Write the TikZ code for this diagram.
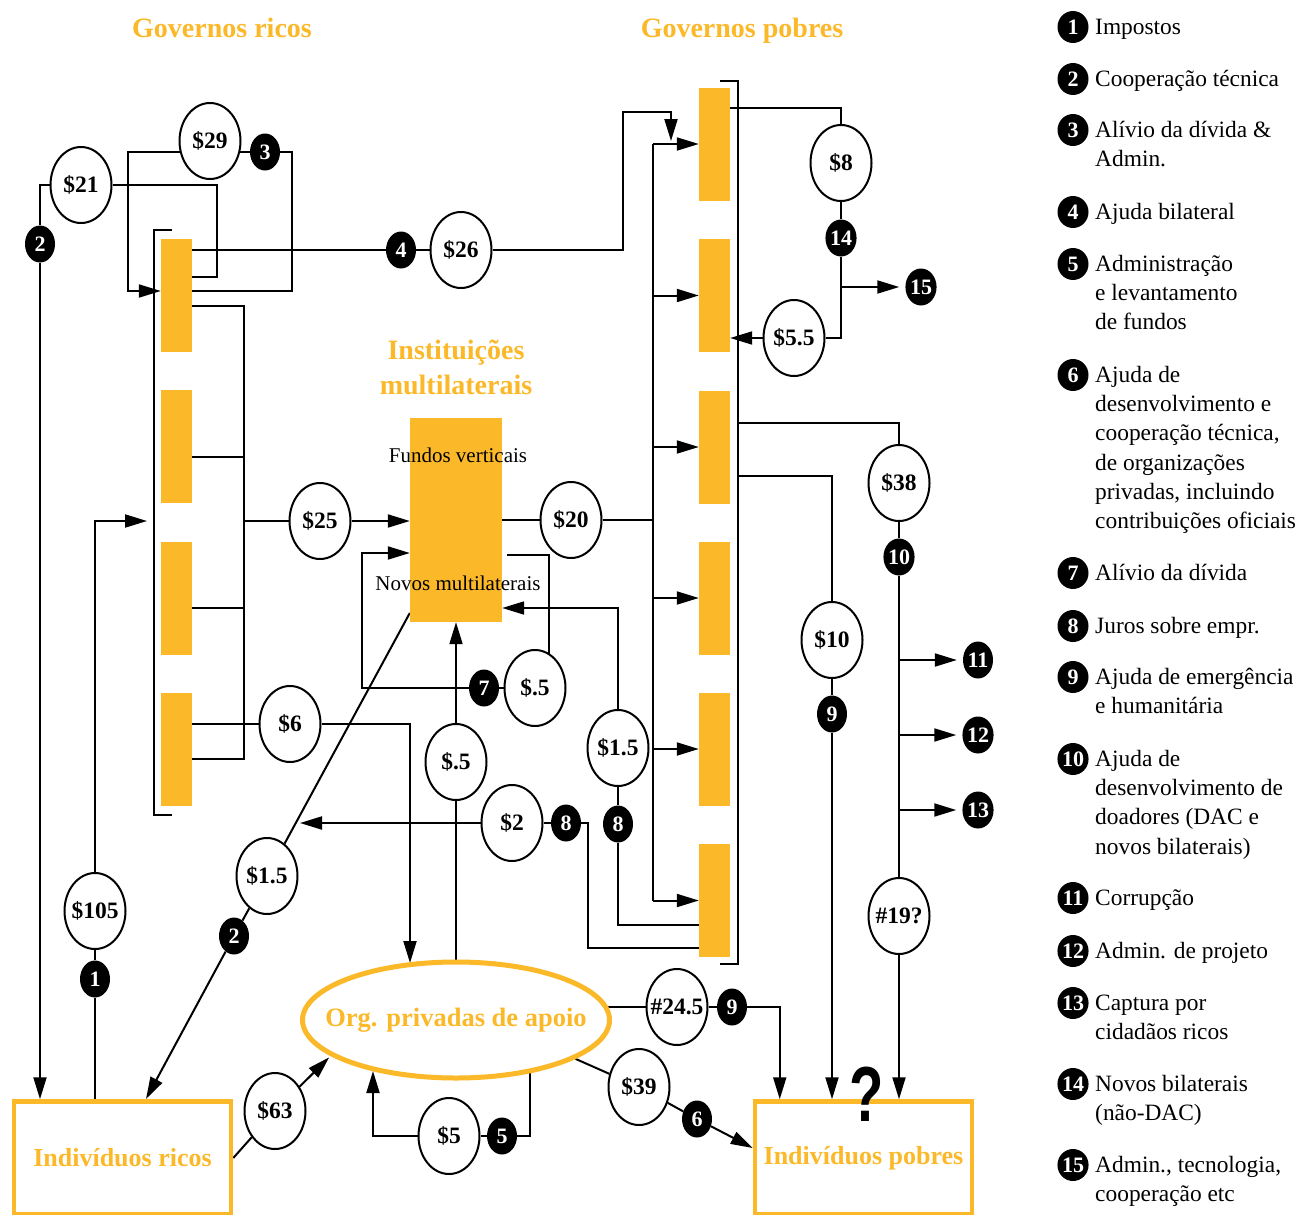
\documentclass[tikz,border=0pt]{standalone}
\usepackage{graphicx}
\usepackage{fontspec}
\setmainfont{Liberation Serif}
\newfontfamily\qfont{Liberation Sans}
\usetikzlibrary{shapes.geometric,arrows.meta,backgrounds}

\begin{document}
\begin{tikzpicture}[x=1pt,y=-1pt,
    flow/.style={line width=2pt},
    flowto/.style={line width=2pt,-{Triangle[length=22pt,width=13pt]}},
    govbar/.style={shape=rectangle,fill=aidorange,minimum width=31pt,minimum height=113pt,inner sep=0pt},
    amount/.style={shape=ellipse,draw,line width=2pt,fill=white,minimum width=61pt,minimum height=76pt,inner xsep=-8pt,inner ysep=0pt,font=\fontsize{23.5}{23.5}\selectfont\bfseries},
    badge/.style={shape=ellipse,fill=black,text=white,minimum width=30pt,minimum height=37pt,inner sep=0pt,font=\fontsize{22}{22}\selectfont\bfseries},
    keybadge/.style={badge,minimum width=31pt,minimum height=32pt},
    keytext/.style={anchor=north west,inner sep=0pt,align=left,font=\fontsize{23.4}{29.3}\selectfont},
    heading/.style={text=aidorange,font=\fontsize{28}{35}\selectfont\bfseries},
    people/.style={shape=rectangle,draw=aidorange,line width=4.5pt,minimum width=217pt,minimum height=113pt,text=aidorange,font=\fontsize{26}{26}\selectfont\bfseries}]
    \definecolor{aidorange}{RGB}{251,185,41}
    \useasboundingbox (0,0) rectangle (1301,1215);

    \node[heading,anchor=base] (trich) at (222,38) {Governos ricos};
    \node[heading,anchor=base] (tpoor) at (742,38) {Governos pobres};
    \node[heading,align=center] (tmulti) at (456,367) {Instituições\\multilaterais};

    \node[govbar] (lb1) at (176.5,295.5) {};
    \node[govbar] (lb2) at (176.5,446.5) {};
    \node[govbar] (lb3) at (176.5,598) {};
    \node[govbar] (lb4) at (176.5,749) {};
    \node[govbar] (rb1) at (714.5,144) {};
    \node[govbar] (rb2) at (714.5,295.5) {};
    \node[govbar] (rb3) at (714.5,447) {};
    \node[govbar] (rb4) at (714.5,598) {};
    \node[govbar] (rb5) at (714.5,749) {};
    \node[govbar] (rb6) at (714.5,900.5) {};
    \draw[line width=2.5pt] (172,230) -| (154,815) -- (172,815);
    \draw[line width=2.5pt] (720,81) -| (738,964) -- (720,964);

    \node[shape=rectangle,fill=aidorange,minimum width=92pt,minimum height=204pt] (mb) at (456,520) {};
    \node[font=\fontsize{21}{21}\selectfont] (fv) at (458,455) {Fundos verticais};
    \node[font=\fontsize{21}{21}\selectfont] (nm) at (458,583) {Novos multilaterais};

    \node[shape=ellipse,draw=aidorange,line width=5pt,fill=white,minimum width=307pt,minimum height=116pt,
      label={[text=aidorange,font=\fontsize{26.5}{26.5}\selectfont\bfseries]center:Org. privadas de apoio}] (org) at (456,1020) {};
    \node[people] (irich) at (122.5,1158) {Indivíduos ricos};
    \node[people] (ipoor) at (863.5,1158) {Indivíduos pobres};
    \node[font=\qfont\bfseries\fontsize{78}{78}\selectfont,inner sep=0pt] (qmark) at (867,1094) {\scalebox{0.72}[1]{?}};

    \node[amount] (a21) at (81,185) {\$21};
    \node[amount] (a29) at (210,141) {\$29};
    \node[amount] (a26) at (461,250) {\$26};
    \node[amount] (a25) at (320,521) {\$25};
    \node[amount] (a20) at (571,520) {\$20};
    \node[amount] (a6) at (290,724) {\$6};
    \node[amount] (a105) at (95,911) {\$105};
    \node[amount] (a15l) at (267,876) {\$1.5};
    \node[amount] (a5t) at (535,688) {\$.5};
    \node[amount] (a5b) at (456,762) {\$.5};
    \node[amount] (a2) at (512,823) {\$2};
    \node[amount] (a15r) at (618,748) {\$1.5};
    \node[amount] (a8) at (841,163) {\$8};
    \node[amount] (a55) at (794,338) {\$5.5};
    \node[amount] (a38) at (899,483) {\$38};
    \node[amount] (a10) at (832,640) {\$10};
    \node[amount] (a19) at (899,916) {\#19?};
    \node[amount] (a63) at (275,1111) {\$63};
    \node[amount] (a5) at (449,1136) {\$5};
    \node[amount] (a245) at (677,1007) {\#24.5};
    \node[amount] (a39) at (639,1087) {\$39};

    \node[badge] (b2a) at (40,244) {2};
    \node[badge] (b3) at (265,152) {3};
    \node[badge] (b4) at (401,250) {4};
    \node[badge] (b14) at (841,238) {14};
    \node[badge] (b15) at (921,287) {15};
    \node[badge] (b10) at (899,557) {10};
    \node[badge] (b11) at (978,660) {11};
    \node[badge] (b12) at (978,735) {12};
    \node[badge] (b13) at (978,810) {13};
    \node[badge] (b9a) at (832,714) {9};
    \node[badge] (b7) at (484,688) {7};
    \node[badge] (b8a) at (566,823) {8};
    \node[badge] (b8b) at (618,824) {8};
    \node[badge] (b2b) at (234,936) {2};
    \node[badge] (b1) at (95,979) {1};
    \node[badge] (b5) at (502,1136) {5};
    \node[badge] (b9b) at (732,1007) {9};
    \node[badge] (b6) at (697,1119) {6};

    \begin{scope}[on background layer]
    \fill[white] (0,0) rectangle (1301,1215);
    \coordinate (feed) at (653,0);
    \coordinate (rbrk) at (738,0);
    \draw[flowto] (a21) -| (b2a) -- (b2a |- irich.north);
    \draw[flow] (a21) -| (217,277) -- (lb1.east |- 0,277);
    \draw[flowto] (b3) -| (128,291) -- (lb1.west |- 0,291);
    \draw[flow] (b3) -| (292,291) -- (lb1.east |- 0,291);
    \draw[flowto] (lb1.east |- b4) -- (b4) -- (a26) -| (623,112) -| (671,141);
    \draw[flow] (feed |- rb1) -- (feed |- rb6);
    \draw[flowto] (feed |- rb1) -- (rb1);
    \draw[flowto] (feed |- rb2) -- (rb2);
    \draw[flowto] (feed |- rb3) -- (rb3);
    \draw[flowto] (feed |- rb4) -- (rb4);
    \draw[flowto] (feed |- rb5) -- (rb5);
    \draw[flowto] (feed |- rb6) -- (rb6);
    \draw[flow] (mb) -- (a20) -- (feed |- a20);
    \draw[flow] (lb1.east |- 0,306) -| (244,759) -- (lb4.east |- 0,759);
    \draw[flow] (lb2.east |- 0,457) -- (244,457);
    \draw[flow] (lb3.east |- 0,608) -- (244,608);
    \draw[flowto] (244,521) -- (a25) -- (mb.west |- a25);
    \draw[flowto] (lb4.east |- a6) -- (a6) -| (410,963);
    \draw[flowto] (irich.north -| b1) -- (b1) -- (a105) |- (147,521);
    \draw[flowto] (mb.west |- 0,613) -- (a15l) -- (b2b) -- (146,1099);
    \draw[flowto] (org) -- (a5b) -- (mb);
    \draw[flow] ([xshift=5pt,yshift=-35pt]mb.east) -| (a5t.center -| 549,0);
    \draw[flowto] (a5t) -- (b7) -| (362,553) -- (mb.west |- 0,553);
    \draw[flowto] (rb6.west |- 0,925) -| (b8b) -- (a15r) |- (mb.east |- 0,608);
    \draw[flowto] (rb6.west |- 0,948) -| (588,823) -- (b8a) -- (a2) -- (300,823);
    \draw[flow] (rb1.east |- 0,108) -| (a8);
    \draw[flowto] (a8) -- (b14) |- (a55) -- (rb2.east |- a55);
    \draw[flowto,shorten >=6pt] (b14 |- b15) -- (b15);
    \draw[flow] (rbrk |- 0,423) -| (a38);
    \draw[flowto] (a38) -- (b10) -- (a19) -- (a19 |- ipoor.north);
    \draw[flowto,shorten >=6pt] (a19 |- b11) -- (b11);
    \draw[flowto,shorten >=6pt] (a19 |- b12) -- (b12);
    \draw[flowto,shorten >=6pt] (a19 |- b13) -- (b13);
    \draw[flow] (rbrk |- 0,476) -| (a10);
    \draw[flowto] (a10) -- (b9a) -- (b9a |- ipoor.north);
    \draw[flowto] (org.center |- a245) -- (a245) -- (b9b) -| ([xshift=27pt]ipoor.north west);
    \draw[flowto] (org.-18) -- (a39) -- (b6) -- (ipoor.west |- 0,1148);
    \draw[flowto,shorten >=2pt] (irich.east) -- (a63) -- (org.196);
    \draw[flowto] (org.center -| 530,0) |- (b5) -- (a5) -| (373,1071);
    \end{scope}

    \node[keybadge] (k1) at (1073,27) {1};
    \node[keytext] (k1t) at (1095,13.5) {\strut Impostos};
    \node[keybadge] (k2) at (1073,79) {2};
    \node[keytext] (k2t) at (1095,65.5) {\strut Cooperação técnica};
    \node[keybadge] (k3) at (1073,130) {3};
    \node[keytext] (k3t) at (1095,116.5) {\strut Alívio da dívida \&\\Admin.};
    \node[keybadge] (k4) at (1073,212) {4};
    \node[keytext] (k4t) at (1095,198.5) {\strut Ajuda bilateral};
    \node[keybadge] (k5) at (1073,264) {5};
    \node[keytext] (k5t) at (1095,250.5) {\strut Administração\\e levantamento\\de fundos};
    \node[keybadge] (k6) at (1073,375) {6};
    \node[keytext] (k6t) at (1095,361.5) {\strut Ajuda de\\desenvolvimento e\\cooperação técnica,\\de organizações\\privadas, incluindo\\contribuições oficiais};
    \node[keybadge] (k7) at (1073,573) {7};
    \node[keytext] (k7t) at (1095,559.5) {\strut Alívio da dívida};
    \node[keybadge] (k8) at (1073,626) {8};
    \node[keytext] (k8t) at (1095,612.5) {\strut Juros sobre empr.};
    \node[keybadge] (k9) at (1073,677) {9};
    \node[keytext] (k9t) at (1095,663.5) {\strut Ajuda de emergência\\e humanitária};
    \node[keybadge] (k10) at (1073,759) {10};
    \node[keytext] (k10t) at (1095,745.5) {\strut Ajuda de\\desenvolvimento de\\doadores (DAC e\\novos bilaterais)};
    \node[keybadge] (k11) at (1073,898) {11};
    \node[keytext] (k11t) at (1095,884.5) {\strut Corrupção};
    \node[keybadge] (k12) at (1073,951) {12};
    \node[keytext] (k12t) at (1095,937.5) {\strut Admin. de projeto};
    \node[keybadge] (k13) at (1073,1003) {13};
    \node[keytext] (k13t) at (1095,989.5) {\strut Captura por\\cidadãos ricos};
    \node[keybadge] (k14) at (1073,1084) {14};
    \node[keytext] (k14t) at (1095,1070.5) {\strut Novos bilaterais\\(não-DAC)};
    \node[keybadge] (k15) at (1073,1165) {15};
    \node[keytext] (k15t) at (1095,1151.5) {\strut Admin., tecnologia,\\cooperação etc};
\end{tikzpicture}
\end{document}
